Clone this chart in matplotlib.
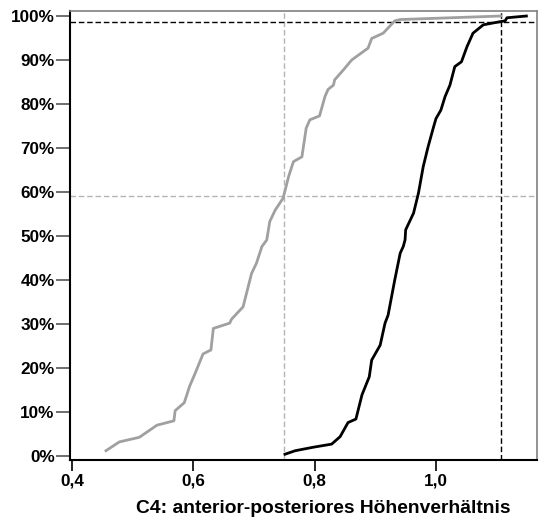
import matplotlib
matplotlib.use("Agg")
import matplotlib.pyplot as plt
from matplotlib.ticker import FuncFormatter

# Gray series (cumulative distribution)
gray_x = [0.456, 0.478, 0.511, 0.540, 0.568, 0.570, 0.585, 0.594, 0.603, 0.616,
          0.629, 0.633, 0.660, 0.663, 0.682, 0.696, 0.704, 0.713, 0.721, 0.726,
          0.735, 0.748, 0.757, 0.765, 0.779, 0.786, 0.792, 0.808, 0.817, 0.822,
          0.831, 0.833, 0.847, 0.861, 0.888, 0.894, 0.913, 0.932, 0.941, 1.107]
gray_y = [1.2, 3.2, 4.25, 7.0, 8.0, 10.3, 12.1, 15.9, 18.8, 23.2,
          24.1, 29.0, 30.2, 31.1, 33.9, 41.5, 43.8, 47.6, 49.1, 53.3,
          55.9, 58.6, 63.5, 66.9, 68.0, 74.5, 76.4, 77.3, 81.7, 83.3,
          84.3, 85.5, 87.7, 90.0, 92.7, 94.9, 96.1, 98.9, 99.2, 100.0]

# Black series (cumulative distribution)
black_x = [0.751, 0.768, 0.798, 0.828, 0.842, 0.855, 0.868, 0.878, 0.890, 0.894,
           0.908, 0.916, 0.921, 0.932, 0.941, 0.946, 0.949, 0.950, 0.963, 0.971,
           0.979, 0.987, 0.996, 1.000, 1.008, 1.015, 1.023, 1.031, 1.042, 1.051,
           1.061, 1.078, 1.105, 1.114, 1.117, 1.149]
black_y = [0.4, 1.2, 2.0, 2.7, 4.4, 7.6, 8.4, 13.9, 18.0, 21.8,
           25.2, 30.2, 32.0, 40.0, 46.1, 47.6, 49.1, 51.4, 55.2, 59.7,
           65.8, 70.3, 74.8, 76.7, 78.6, 81.7, 84.3, 88.5, 89.6, 93.0,
           96.1, 98.0, 98.7, 98.9, 99.6, 100.0]

# Reference lines
gray_ref_x = 0.750
gray_ref_y = 59.1
black_ref_x = 1.107
black_ref_y = 98.6

x_ticks = [0.4, 0.6, 0.8, 1.0]
y_ticks = [0, 10, 20, 30, 40, 50, 60, 70, 80, 90, 100]
x_label = "C4: anterior-posteriores Höhenverhältnis"

plt.rcParams['font.family'] = ['Liberation Sans', 'DejaVu Sans']

fig = plt.figure(figsize=(5.4, 5.25), dpi=100)
ax = fig.add_axes([70/540, 65/525, 466.7/540, 449/525])

ax.axvline(gray_ref_x, color='#b4b4b4', lw=1.0, ls=(0, (4, 2)), zorder=1)
ax.axhline(gray_ref_y, color='#b4b4b4', lw=1.0, ls=(0, (4, 2)), zorder=1)
ax.axvline(black_ref_x, color='black', lw=1.0, ls=(0, (4, 2)), zorder=1)
ax.axhline(black_ref_y, color='black', lw=1.0, ls=(0, (4, 2)), zorder=1)

ax.plot(gray_x, gray_y, color='#a0a0a0', lw=2.0, zorder=3)
ax.plot(black_x, black_y, color='black', lw=2.0, zorder=4)

ax.set_xlim(0.3967, 1.166)
ax.set_ylim(-0.91, 101.14)
ax.set_xticks(x_ticks)
ax.set_yticks(y_ticks)
ax.xaxis.set_major_formatter(FuncFormatter(lambda v, p: f"{v:.1f}".replace('.', ',')))
ax.yaxis.set_major_formatter(FuncFormatter(lambda v, p: f"{int(round(v))}%"))

for lab in ax.get_xticklabels() + ax.get_yticklabels():
    lab.set_fontweight('bold')
    lab.set_fontsize(12.3)

ax.tick_params(axis='y', length=10, width=1.2, color='#555555', pad=1)
ax.tick_params(axis='x', length=8, width=1.2, color='black', pad=2)

ax.spines['left'].set_color('black')
ax.spines['left'].set_linewidth(1.5)
ax.spines['bottom'].set_color('black')
ax.spines['bottom'].set_linewidth(1.5)
ax.spines['top'].set_color('#808080')
ax.spines['top'].set_linewidth(1.2)
ax.spines['right'].set_color('#808080')
ax.spines['right'].set_linewidth(1.2)

ax.set_xlabel(x_label, fontsize=13.9, fontweight='bold', ha='right')
ax.xaxis.set_label_coords((510 - 70) / 466.7, -0.088)

fig.savefig("out.png", dpi=100)
